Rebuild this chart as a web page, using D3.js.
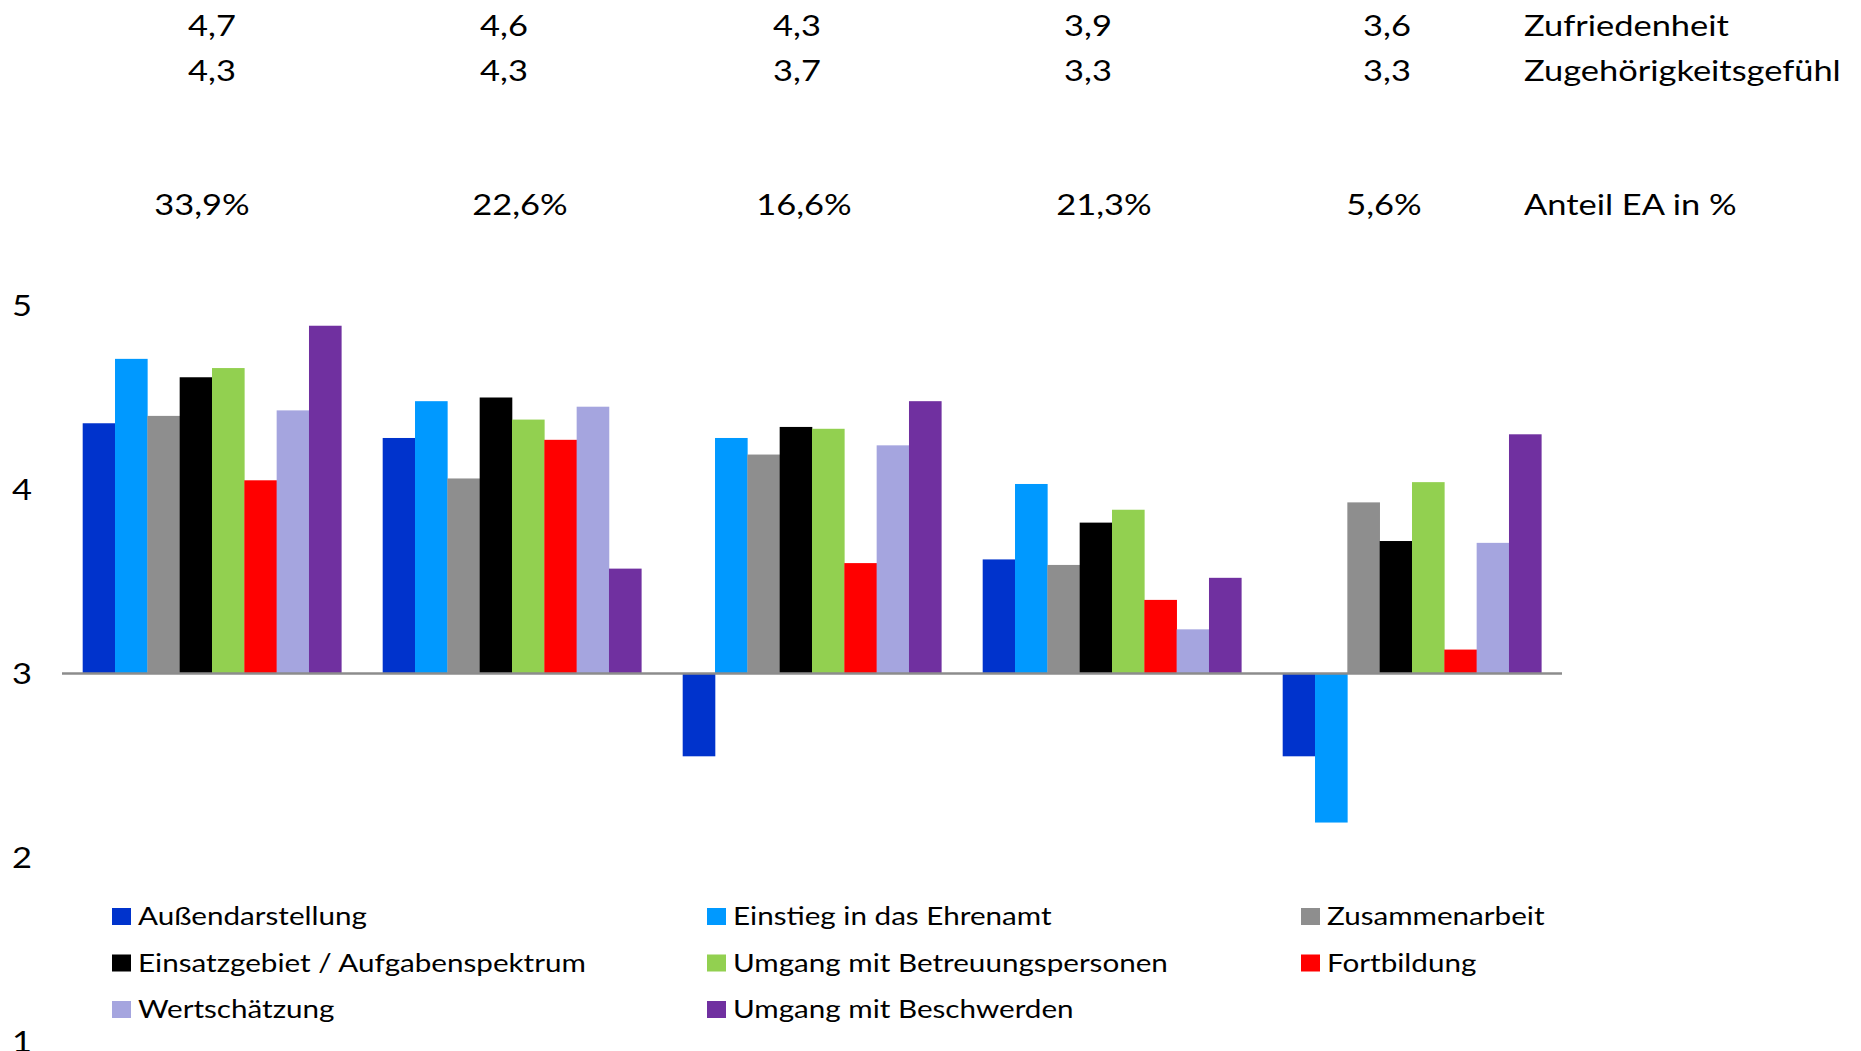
<!DOCTYPE html>
<html><head><meta charset="utf-8">
<script src="https://cdn.jsdelivr.net/npm/d3@7"></script>
<style>html,body{margin:0;padding:0;background:#fff;overflow:hidden}</style>
</head><body>
<svg id="c" width="1861" height="1051"></svg>
<script>
// ---- data ----
const groups = ["Gruppe 1", "Gruppe 2", "Gruppe 3", "Gruppe 4", "Gruppe 5"];
const seriesNames = ["Außendarstellung", "Einstieg in das Ehrenamt", "Zusammenarbeit",
  "Einsatzgebiet / Aufgabenspektrum", "Umgang mit Betreuungspersonen", "Fortbildung",
  "Wertschätzung", "Umgang mit Beschwerden"];
const aussendarstellung = [4.36, 4.28, 2.55, 3.62, 2.55];
const einstieg = [4.71, 4.48, 4.28, 4.03, 2.19];
const zusammenarbeit = [4.40, 4.06, 4.19, 3.59, 3.93];
const einsatzgebiet = [4.61, 4.50, 4.34, 3.82, 3.72];
const betreuung = [4.66, 4.38, 4.33, 3.89, 4.04];
const fortbildung = [4.05, 4.27, 3.60, 3.40, 3.13];
const wertschaetzung = [4.43, 4.45, 4.24, 3.24, 3.71];
const beschwerden = [4.89, 3.57, 4.48, 3.52, 4.30];
const zufriedenheit = [4.7, 4.6, 4.3, 3.9, 3.6];
const zugehoerigkeit = [4.3, 4.3, 3.7, 3.3, 3.3];
const anteilEA = [33.9, 22.6, 16.6, 21.3, 5.6];
const rowLabels = ["Zufriedenheit", "Zugehörigkeitsgefühl", "Anteil EA in %"];
const yTicks = [1, 2, 3, 4, 5];

const seriesValues = [aussendarstellung, einstieg, zusammenarbeit, einsatzgebiet,
  betreuung, fortbildung, wertschaetzung, beschwerden];
const colors = ["#0033CC", "#0099FF", "#8E8E8E", "#000000", "#92D050", "#FF0000", "#A5A5DF", "#7030A0"];

// ---- layout ----
const svg = d3.select("#c");
const FONT = "Lato, 'Open Sans', sans-serif";
const FS = 28;
const LFS = FS * 0.86;
const baseValue = 3;

const x0 = d3.scaleBand().domain(groups).range([62, 1562]).paddingInner(0).paddingOuter(0);
const x1 = d3.scaleBand().domain(seriesNames).range([0, x0.bandwidth()]).paddingInner(0).paddingOuter(0.64);
const y = d3.scaleLinear().domain([1, 5]).range([1041.5, 305.5]);

// measure horizontal stretch
const probe = svg.append("text").attr("font-family", FONT).attr("font-size", FS).text("Zufriedenheit");
const sx = 205 / probe.node().getComputedTextLength();
probe.remove();
const capH = FS * 0.7165;

function txt(g, x, yb, s, anchor, fs) {
  return g.append("text")
    .attr("transform", `translate(${x},${yb}) scale(${sx},1)`)
    .attr("font-family", FONT).attr("font-size", fs || FS).attr("fill", "#000")
    .attr("text-anchor", anchor || "start").text(s);
}

const loc = d3.formatLocale({decimal: ",", thousands: ".", grouping: [3], currency: ["", "€"]});
const f1 = loc.format(".1f");

// bars
const gBars = svg.append("g");
const flat = [];
groups.forEach((g, gi) => seriesNames.forEach((s, si) => flat.push({g, s, si, v: seriesValues[si][gi]})));
gBars.selectAll("rect").data(flat).enter().append("rect")
  .attr("x", d => x0(d.g) + x1(d.s))
  .attr("width", x1.bandwidth() + 0.3)
  .attr("y", d => y(Math.max(d.v, baseValue)))
  .attr("height", d => Math.abs(y(d.v) - y(baseValue)))
  .attr("fill", d => colors[d.si]);

// horizontal axis line at 3
svg.append("line")
  .attr("x1", x0.range()[0]).attr("x2", x0.range()[1])
  .attr("y1", y(baseValue)).attr("y2", y(baseValue))
  .attr("stroke", "#8C8C8C").attr("stroke-width", 2.5);

// y tick labels
const gTicks = svg.append("g");
yTicks.forEach(t => txt(gTicks, 22, y(t) + capH / 2, String(t), "middle"));

// top annotation rows
const rowBase = [35.5, 80.5, 215];
const rowOffsets = [[0, -8, -15, -24, -25], [0, -8, -15, -24, -25], [-10, 8, -8, -8, -28]];
const rowData = [zufriedenheit.map(f1), zugehoerigkeit.map(f1), anteilEA.map(v => f1(v) + "%")];
const gTop = svg.append("g");
rowData.forEach((row, ri) => {
  row.forEach((s, gi) => {
    const cx = x0(groups[gi]) + x0.bandwidth() / 2 + rowOffsets[ri][gi];
    txt(gTop, cx, rowBase[ri], s, "middle");
  });
  txt(gTop, 1524, rowBase[ri], rowLabels[ri], "start");
});

// legend
const gLeg = svg.append("g");
const legCols = [112, 707, 1301];
const legRows = [925, 971.5, 1018];
seriesNames.forEach((s, i) => {
  const cx = legCols[i % 3], by = legRows[Math.floor(i / 3)];
  gLeg.append("rect").attr("x", cx).attr("y", by - 17).attr("width", 19).attr("height", 17).attr("fill", colors[i]);
  txt(gLeg, cx + 26, by, s, "start", LFS);
});
</script>
</body></html>
